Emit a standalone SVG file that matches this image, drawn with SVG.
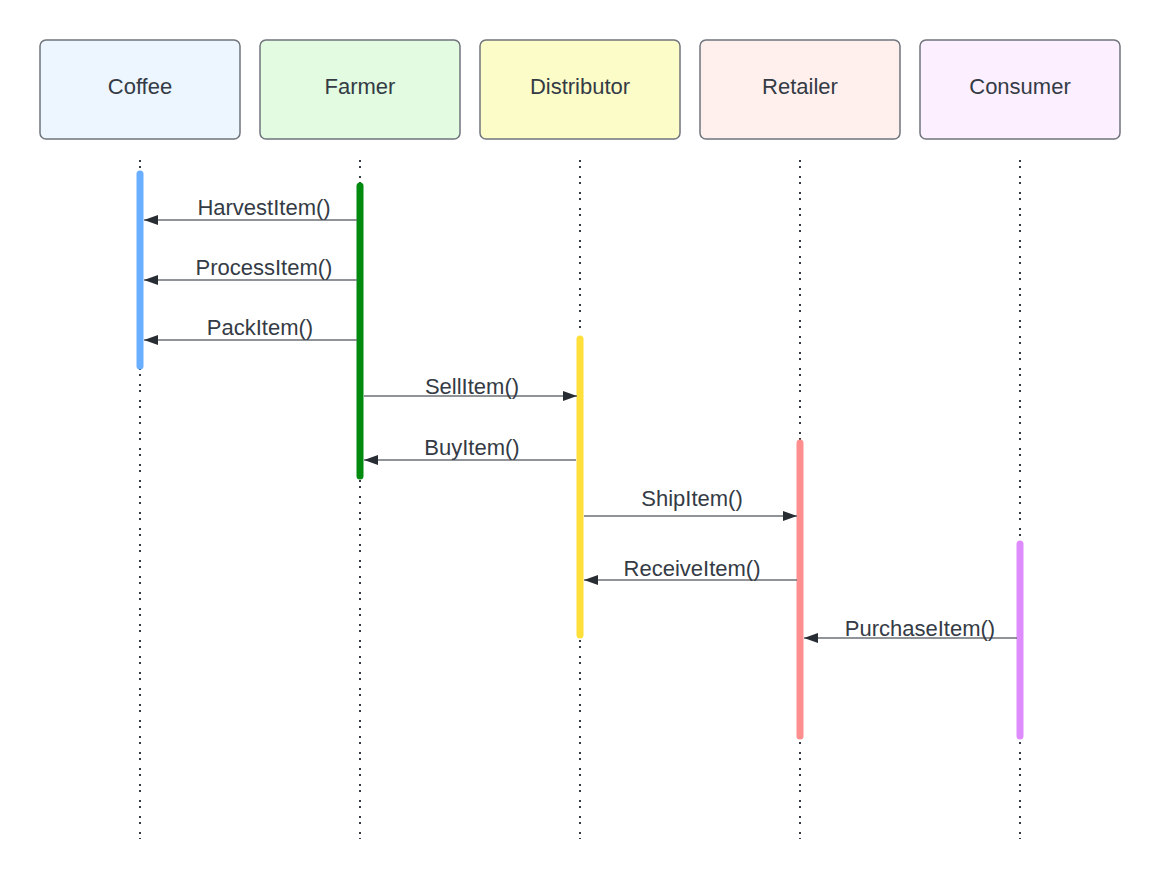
<svg xmlns="http://www.w3.org/2000/svg" width="1160" height="881" viewBox="0 0 1160 881">
<style>
.box{stroke:#6f747c;stroke-width:1.5}
.hdr{font-family:"Liberation Sans",Arial,sans-serif;font-size:22px;fill:#343b45;text-anchor:middle}
.lbl{font-family:"Liberation Sans",Arial,sans-serif;font-size:22px;fill:#343b45;text-anchor:middle}
.life{stroke:#343b45;stroke-width:2;stroke-dasharray:2 4 2 8;fill:none}
.bar{stroke-width:7;stroke-linecap:round;fill:none}
.msg{stroke:#6b6f76;stroke-width:1.5;fill:none;marker-end:url(#ah)}
</style>
<defs>
<marker id="ah" markerWidth="14" markerHeight="10" refX="14" refY="5" orient="auto" markerUnits="userSpaceOnUse">
<path d="M0,0 L14,5 L0,10 z" fill="#282d34"/>
</marker>
</defs>
<rect width="1160" height="881" fill="#ffffff"/>
<g id="lifelines">
<line class="life" x1="140" y1="160" x2="140" y2="839"/>
<line class="life" x1="360" y1="160" x2="360" y2="839"/>
<line class="life" x1="580" y1="160" x2="580" y2="839"/>
<line class="life" x1="800" y1="160" x2="800" y2="839"/>
<line class="life" x1="1020" y1="160" x2="1020" y2="839"/>
</g>
<g id="coffee">
<rect class="box" x="40" y="40" width="200" height="99" rx="6" fill="#edf5ff"/>
<text class="hdr" x="140" y="94">Coffee</text>
<line class="bar" x1="140" y1="174" x2="140" y2="366" stroke="#6aaeff"/>
</g>
<g id="farmer">
<rect class="box" x="260" y="40" width="200" height="99" rx="6" fill="#e2fbe1"/>
<text class="hdr" x="360" y="94">Farmer</text>
<line class="bar" x1="360" y1="186" x2="360" y2="476" stroke="#008a0e"/>
</g>
<g id="distributor">
<rect class="box" x="480" y="40" width="200" height="99" rx="6" fill="#fcfcc9"/>
<text class="hdr" x="580" y="94">Distributor</text>
<line class="bar" x1="580" y1="339" x2="580" y2="635" stroke="#ffe03b"/>
</g>
<g id="retailer">
<rect class="box" x="700" y="40" width="200" height="99" rx="6" fill="#fff0ee"/>
<text class="hdr" x="800" y="94">Retailer</text>
<line class="bar" x1="800" y1="443" x2="800" y2="736" stroke="#ff8f8f"/>
</g>
<g id="consumer">
<rect class="box" x="920" y="40" width="200" height="99" rx="6" fill="#fcefff"/>
<text class="hdr" x="1020" y="94">Consumer</text>
<line class="bar" x1="1020" y1="544" x2="1020" y2="736" stroke="#de8cfb"/>
</g>
<g id="connectors">
<line class="msg" x1="357" y1="220" x2="144" y2="220"/>
<text class="lbl" x="264" y="215">HarvestItem()</text>
<line class="msg" x1="357" y1="280" x2="144" y2="280"/>
<text class="lbl" x="264" y="275">ProcessItem()</text>
<line class="msg" x1="357" y1="340" x2="144" y2="340"/>
<text class="lbl" x="260" y="335">PackItem()</text>
<line class="msg" x1="364" y1="396" x2="577" y2="396"/>
<text class="lbl" x="472" y="394">SellItem()</text>
<line class="msg" x1="576" y1="460" x2="364" y2="460"/>
<text class="lbl" x="472" y="455">BuyItem()</text>
<line class="msg" x1="584" y1="516" x2="797" y2="516"/>
<text class="lbl" x="692" y="506">ShipItem()</text>
<line class="msg" x1="797" y1="580" x2="584" y2="580"/>
<text class="lbl" x="692" y="576">ReceiveItem()</text>
<line class="msg" x1="1017" y1="638" x2="804" y2="638"/>
<text class="lbl" x="920" y="636">PurchaseItem()</text>
</g>
</svg>
